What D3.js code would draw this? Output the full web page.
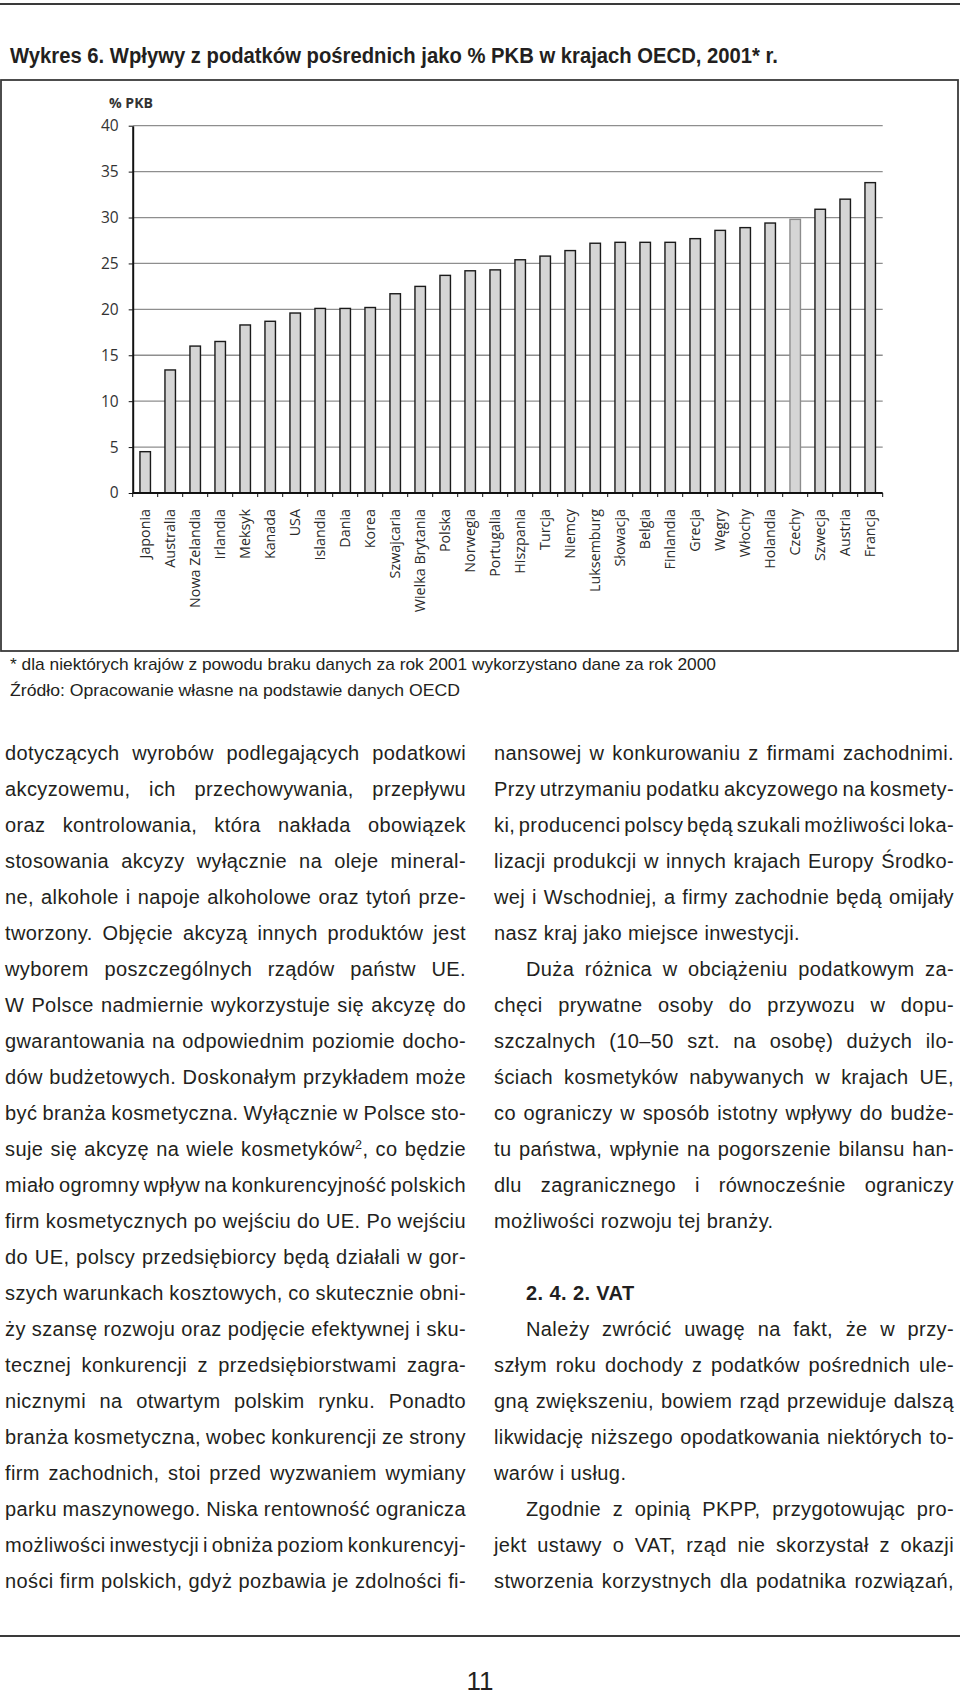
<!DOCTYPE html>
<html><head><meta charset="utf-8">
<script src="https://cdn.jsdelivr.net/npm/d3@7"></script>
<style>body{margin:0;background:#fff}svg{display:block}</style>
</head><body><svg id="c"></svg>
<script>
// ---------- data ----------
const countries = ["Japonia","Australia","Nowa Zelandia","Irlandia","Meksyk","Kanada","USA","Islandia","Dania","Korea","Szwajcaria","Wielka Brytania","Polska","Norwegia","Portugalia","Hiszpania","Turcja","Niemcy","Luksemburg","Słowacja","Belgia","Finlandia","Grecja","Węgry","Włochy","Holandia","Czechy","Szwecja","Austria","Francja"];
const values = [4.5,13.4,16.0,16.5,18.3,18.7,19.6,20.1,20.1,20.2,21.7,22.5,23.7,24.2,24.3,25.4,25.8,26.4,27.2,27.3,27.3,27.3,27.7,28.6,28.9,29.4,29.8,30.9,32.0,33.8];
const lightOutline = ["Czechy"];
const yTicks = [0,5,10,15,20,25,30,35,40];
const yLabel = "% PKB";
const title = "Wykres 6. Wpływy z podatków pośrednich jako % PKB w krajach OECD, 2001* r.";
const notes = ["* dla niektórych krajów z powodu braku danych za rok 2001 wykorzystano dane za rok 2000",
               "Źródło: Opracowanie własne na podstawie danych OECD"];
const pageNo = "11";
// body text: ">" indent, "#" bold, trailing "|" = not justified, null = blank line
const leftLines = [
"dotyczących wyrobów podlegających podatkowi",
"akcyzowemu, ich przechowywania, przepływu",
"oraz kontrolowania, która nakłada obowiązek",
"stosowania akcyzy wyłącznie na oleje mineral-",
"ne, alkohole i napoje alkoholowe oraz tytoń prze-",
"tworzony. Objęcie akcyzą innych produktów jest",
"wyborem poszczególnych rządów państw UE.",
"W Polsce nadmiernie wykorzystuje się akcyzę do",
"gwarantowania na odpowiednim poziomie docho-",
"dów budżetowych. Doskonałym przykładem może",
"być branża kosmetyczna. Wyłącznie w Polsce sto-",
"suje się akcyzę na wiele kosmetyków{2}, co będzie",
"miało ogromny wpływ na konkurencyjność polskich",
"firm kosmetycznych po wejściu do UE. Po wejściu",
"do UE, polscy przedsiębiorcy będą działali w gor-",
"szych warunkach kosztowych, co skutecznie obni-",
"ży szansę rozwoju oraz podjęcie efektywnej i sku-",
"tecznej konkurencji z przedsiębiorstwami zagra-",
"nicznymi na otwartym polskim rynku. Ponadto",
"branża kosmetyczna, wobec konkurencji ze strony",
"firm zachodnich, stoi przed wyzwaniem wymiany",
"parku maszynowego. Niska rentowność ogranicza",
"możliwości inwestycji i obniża poziom konkurencyj-",
"ności firm polskich, gdyż pozbawia je zdolności fi-"
];
const rightLines = [
"nansowej w konkurowaniu z firmami zachodnimi.",
"Przy utrzymaniu podatku akcyzowego na kosmety-",
"ki, producenci polscy będą szukali możliwości loka-",
"lizacji produkcji w innych krajach Europy Środko-",
"wej i Wschodniej, a firmy zachodnie będą omijały",
"nasz kraj jako miejsce inwestycji.|",
">Duża różnica w obciążeniu podatkowym za-",
"chęci prywatne osoby do przywozu w dopu-",
"szczalnych (10–50 szt. na osobę) dużych ilo-",
"ściach kosmetyków nabywanych w krajach UE,",
"co ograniczy w sposób istotny wpływy do budże-",
"tu państwa, wpłynie na pogorszenie bilansu han-",
"dlu zagranicznego i równocześnie ograniczy",
"możliwości rozwoju tej branży.|",
null,
">#2. 4. 2. VAT|",
">Należy zwrócić uwagę na fakt, że w przy-",
"szłym roku dochody z podatków pośrednich ule-",
"gną zwiększeniu, bowiem rząd przewiduje dalszą",
"likwidację niższego opodatkowania niektórych to-",
"warów i usług.|",
">Zgodnie z opinią PKPP, przygotowując pro-",
"jekt ustawy o VAT, rząd nie skorzystał z okazji",
"stworzenia korzystnych dla podatnika rozwiązań,"
];

// ---------- layout ----------
const W = 960, H = 1699;
const plot = {left:132.7, right:882.7, top:125.7, bottom:493};
const ink = "#231f20";
const svg = d3.select("#c").attr("width", W).attr("height", H);
svg.append("rect").attr("width", W).attr("height", H).attr("fill", "#fff");

// rules
svg.append("line").attr("x1",0).attr("x2",W).attr("y1",4).attr("y2",4).attr("stroke","#3a3a3a").attr("stroke-width",2);
svg.append("line").attr("x1",0).attr("x2",W).attr("y1",1636).attr("y2",1636).attr("stroke","#3a3a3a").attr("stroke-width",2);

const narrow = "'Liberation Sans Narrow','Liberation Sans',Arial,sans-serif";
svg.append("text").attr("x",10).attr("y",63).text(title)
  .attr("font-family","'Liberation Sans',Arial,sans-serif").attr("font-weight","bold").attr("font-size",21.5).attr("fill",ink)
  .attr("textLength",768).attr("lengthAdjust","spacingAndGlyphs");

// chart box
svg.append("rect").attr("x",1).attr("y",80).attr("width",957).attr("height",571)
  .attr("fill","none").attr("stroke","#3a3a3a").attr("stroke-width",1.8);

const x = d3.scaleBand().domain(countries).range([plot.left, plot.right]).paddingInner(0.58).paddingOuter(0.29);
const y = d3.scaleLinear().domain([0,40]).range([plot.bottom, plot.top]);

// gridlines
svg.append("g").selectAll("line").data(yTicks.filter(v => v > 0)).join("line")
  .attr("x1", plot.left).attr("x2", plot.right)
  .attr("y1", d => y(d)).attr("y2", d => y(d))
  .attr("stroke","#8e8e8e").attr("stroke-width",1.3);

// bars
svg.append("g").selectAll("rect").data(countries).join("rect")
  .attr("x", d => x(d)).attr("width", x.bandwidth())
  .attr("y", (d,i) => y(values[i])).attr("height", (d,i) => y(0) - y(values[i]))
  .attr("fill", "#d5d5d5")
  .attr("stroke", d => lightOutline.includes(d) ? "#8c8c8c" : "#1a1a1a")
  .attr("stroke-width", 1.4);

// y axis
const ya = svg.append("g").attr("transform", `translate(${plot.left},0)`)
  .call(d3.axisLeft(y).tickValues(yTicks).tickSize(4).tickSizeOuter(0).tickPadding(10));
ya.select(".domain").attr("stroke","#111").attr("stroke-width",2);
ya.selectAll(".tick line").attr("stroke","#111");
ya.selectAll(".tick text").attr("font-family","'Open Sans',sans-serif").attr("font-size",15.5).attr("fill","#333");

svg.append("text").attr("x",109).attr("y",108).text(yLabel)
  .attr("font-family","'Open Sans',sans-serif").attr("font-weight","bold").attr("font-size",14.5).attr("fill","#333")
  .attr("textLength",44).attr("lengthAdjust","spacingAndGlyphs");

// x axis
const bounds = d3.range(countries.length + 1).map(i => plot.left + i * x.step());
svg.append("line").attr("x1",plot.left).attr("x2",plot.right).attr("y1",y(0)).attr("y2",y(0))
  .attr("stroke","#111").attr("stroke-width",2);
svg.append("g").selectAll("line").data(bounds).join("line")
  .attr("x1", d => d).attr("x2", d => d).attr("y1", y(0)).attr("y2", y(0) + 4)
  .attr("stroke","#111").attr("stroke-width",1);
svg.append("g").selectAll("text").data(countries).join("text")
  .attr("transform", d => `translate(${x(d) + x.bandwidth()/2},${y(0) + 16}) rotate(-90)`)
  .attr("text-anchor","end").attr("dy","0.36em")
  .attr("font-family","'Open Sans',sans-serif").attr("font-size",14.3).attr("fill","#2a2a2a")
  .text(d => d);

// notes
const noteLen = [706, 450];
notes.forEach((n,i) => {
  svg.append("text").attr("x",10).attr("y",670 + i*26).text(n)
    .attr("font-family",narrow).attr("font-size",17).attr("fill",ink)
    .attr("textLength",noteLen[i]).attr("lengthAdjust","spacingAndGlyphs");
});

// body text
const bodyFont = {family:"'Liberation Sans',Arial,sans-serif", size:20, ls:0.4};
function wordText(g, w, yy, bold) {
  const t = g.append("text").attr("y", yy)
    .attr("font-family", bodyFont.family).attr("font-size", bodyFont.size)
    .attr("letter-spacing", bodyFont.ls).attr("fill", ink)
    .attr("font-weight", bold ? "bold" : "normal");
  const m = w.match(/^(.*)\{(.+)\}(.*)$/);
  if (m) {
    t.append("tspan").text(m[1]);
    t.append("tspan").text(m[2]).attr("font-size", 12.5).attr("dy", -7.5);
    t.append("tspan").text(m[3]).attr("dy", 7.5);
  } else t.text(w);
  return t;
}
function column(lines, x0, colW, base, step) {
  const g = svg.append("g");
  const probe = wordText(g, "a a", -100, false), probe2 = wordText(g, "aa", -100, false);
  const sp = probe.node().getComputedTextLength() - probe2.node().getComputedTextLength();
  probe.remove(); probe2.remove();
  lines.forEach((raw, row) => {
    if (raw == null) return;
    let s = raw, indent = 0, bold = false, just = true;
    if (s.startsWith(">")) { indent = 32; s = s.slice(1); }
    if (s.startsWith("#")) { bold = true; s = s.slice(1); }
    if (s.endsWith("|")) { just = false; s = s.slice(0, -1); }
    const yy = base + row * step;
    const words = s.split(" ");
    const nodes = words.map(w => wordText(g, w, yy, bold));
    const widths = nodes.map(n => n.node().getComputedTextLength());
    const total = d3.sum(widths);
    const avail = colW - indent;
    let gap = sp;
    if (just && words.length > 1) gap = (avail - total) / (words.length - 1);
    let scale = 1;
    if (gap < 3 && just) { gap = 3; scale = (avail - gap*(words.length-1)) / total; }
    let cx = x0 + indent;
    nodes.forEach((n, i) => {
      n.attr("x", cx);
      if (scale !== 1) n.attr("textLength", widths[i]*scale).attr("lengthAdjust","spacingAndGlyphs");
      cx += widths[i]*scale + gap;
    });
  });
}
column(leftLines, 5, 461, 760, 36);
column(rightLines, 494, 460, 760, 36);

svg.append("text").attr("x",480).attr("y",1690).attr("text-anchor","middle").text(pageNo)
  .attr("font-family",narrow).attr("font-size",26).attr("fill",ink);
</script></body></html>
